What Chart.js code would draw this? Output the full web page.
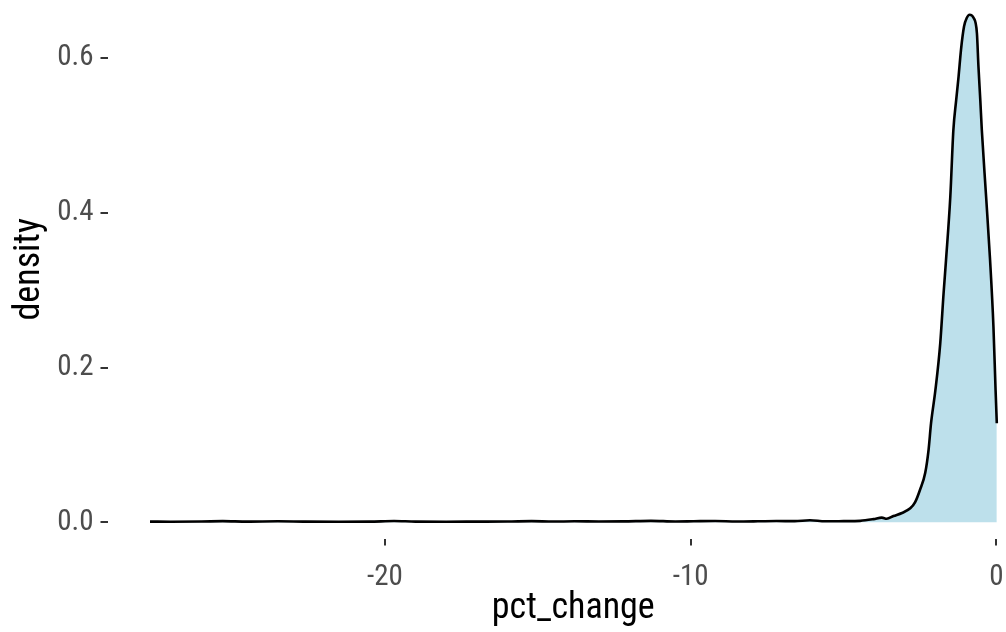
<!DOCTYPE html>
<html>
<head>
<meta charset="utf-8">
<script src="https://cdn.jsdelivr.net/npm/chart.js@4.4.1/dist/chart.umd.min.js"></script>
<style>
    html, body { margin: 0; padding: 0; background: #ffffff; overflow: hidden; }
    #wrap { position: absolute; left: 0; top: 0; width: 1045px; height: 632px; }
</style>
</head>
<body>
<div id="wrap"><canvas id="densityChart" width="1045" height="632"></canvas></div>
<script>
// density estimate of pct_change
const pctChange = [
    -27.68, -27.0, -26.0, -25.3, -24.5, -23.5, -22.6, -21.5, -20.5, -19.7,
    -19.0, -18.0, -17.0, -16.0, -15.2, -14.5, -13.8, -13.0, -12.2, -11.3,
    -10.5, -9.9, -9.2, -8.5, -7.8, -7.2, -6.6, -6.1, -5.6, -5.0,
    -4.46, -4.02, -3.75, -3.59, -3.37, -3.09, -2.82, -2.66, -2.50, -2.33,
    -2.22, -2.14, -2.0, -1.84, -1.73, -1.65, -1.51, -1.41, -1.32, -1.24,
    -1.16, -1.06, -0.97, -0.88, -0.75, -0.64, -0.59, -0.53, -0.48, -0.34,
    -0.21, -0.10, -0.03, 0.01
];
const density = [
    0.0008, 0.0007, 0.0009, 0.0014, 0.0008, 0.0012, 0.0008, 0.0007, 0.0008, 0.0016,
    0.0008, 0.0007, 0.0008, 0.0009, 0.0014, 0.0009, 0.0012, 0.0010, 0.0011, 0.0018,
    0.0010, 0.0013, 0.0016, 0.0009, 0.0012, 0.0016, 0.0014, 0.0025, 0.0012, 0.0014,
    0.0018, 0.004, 0.006, 0.0045, 0.008, 0.012, 0.018, 0.026, 0.042, 0.064,
    0.094, 0.128, 0.170, 0.231, 0.296, 0.339, 0.421, 0.507, 0.545, 0.576,
    0.611, 0.641, 0.652, 0.656, 0.652, 0.632, 0.589, 0.546, 0.507, 0.421,
    0.339, 0.253, 0.171, 0.128
];
const xTicks = [-20, -10, 0];
const yTicks = [0.0, 0.2, 0.4, 0.6];

document.addEventListener('DOMContentLoaded', function () {
    const points = pctChange.map(function (x, i) { return { x: x, y: density[i] }; });
    const fontFamily = "'Roboto Condensed', Roboto, sans-serif";

    new Chart(document.getElementById('densityChart').getContext('2d'), {
        type: 'line',
        data: {
            datasets: [{
                data: points,
                borderColor: '#000000',
                borderWidth: 2.6,
                backgroundColor: 'rgba(173,216,230,0.8)',
                fill: 'origin',
                pointRadius: 0,
                cubicInterpolationMode: 'monotone',
                clip: false
            }]
        },
        options: {
            responsive: false,
            animation: false,
            layout: { padding: { left: 0, right: 6, top: 0, bottom: 0 } },
            plugins: { legend: { display: false }, tooltip: { enabled: false } },
            scales: {
                x: {
                    type: 'linear',
                    min: -29.07,
                    max: 1.39,
                    afterBuildTicks: function (scale) {
                        scale.ticks = xTicks.map(function (v) { return { value: v }; });
                    },
                    afterFit: function (scale) {
                        scale.height = 93.5;
                        scale.paddingLeft = 0;
                        scale.paddingRight = 0;
                    },
                    ticks: {
                        color: '#4d4d4d',
                        font: { family: fontFamily, size: 29 },
                        padding: 15,
                        maxRotation: 0,
                        callback: function (v) { return String(v); }
                    },
                    grid: { drawOnChartArea: false, drawTicks: true, tickLength: 7, color: '#333333', lineWidth: 2 },
                    border: { display: false },
                    title: {
                        display: true,
                        text: 'pct_change',
                        color: '#000000',
                        font: { family: fontFamily, size: 36 },
                        padding: { top: 0, bottom: 1 }
                    }
                },
                y: {
                    type: 'linear',
                    min: -0.021,
                    max: 0.675,
                    afterBuildTicks: function (scale) {
                        scale.ticks = yTicks.map(function (v) { return { value: v }; });
                    },
                    afterFit: function (scale) {
                        scale.width = 107.5;
                        scale.paddingTop = 0;
                        scale.paddingBottom = 0;
                    },
                    ticks: {
                        color: '#4d4d4d',
                        font: { family: fontFamily, size: 29 },
                        padding: 7,
                        callback: function (v) { return v.toFixed(1); }
                    },
                    grid: { drawOnChartArea: false, drawTicks: true, tickLength: 7, color: '#333333', lineWidth: 2 },
                    border: { display: false },
                    title: {
                        display: true,
                        text: 'density',
                        color: '#000000',
                        font: { family: fontFamily, size: 36 },
                        padding: { top: 8, bottom: 0 }
                    }
                }
            }
        }
    });
});
</script>
</body>
</html>
